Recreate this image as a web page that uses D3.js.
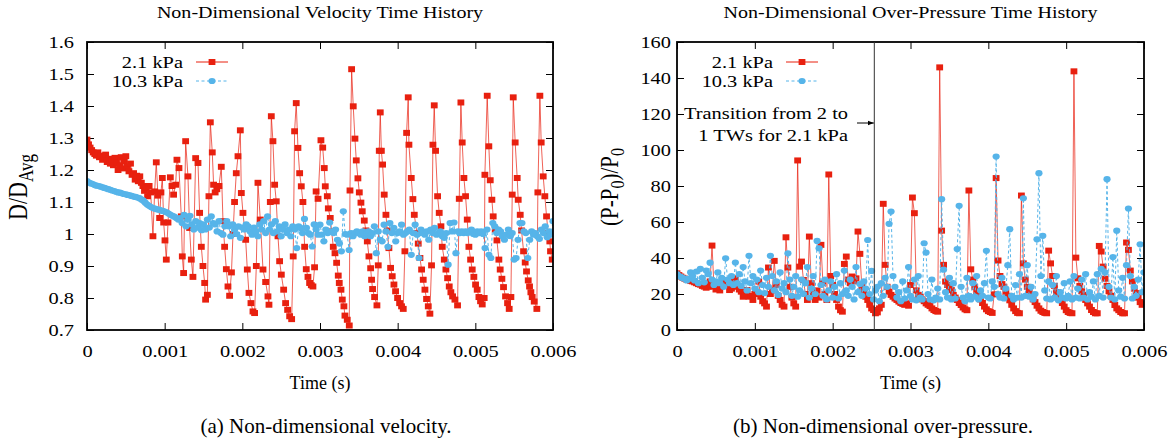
<!DOCTYPE html>
<html>
<head>
<meta charset="utf-8">
<script src="https://cdn.jsdelivr.net/npm/d3@7"></script>
<style>
  body { margin: 0; background: #fff; }
  svg { display: block; font-family: "Liberation Serif", "Times New Roman", serif; }
</style>
</head>
<body>
<svg id="fig" width="1176" height="443"></svg>
<script>
// ---------- data ----------
const timeTicks = [0, 0.001, 0.002, 0.003, 0.004, 0.005, 0.006];
const velTicks = [0.7, 0.8, 0.9, 1.0, 1.1, 1.2, 1.3, 1.4, 1.5, 1.6];
const presTicks = [0, 20, 40, 60, 80, 100, 120, 140, 160];
const seriesNames = ["2.1 kPa", "10.3 kPa"];

// 2.1 kPa velocity, [time in microseconds, D/D_avg]
const vel21 = [[0,1.295],[20,1.28],[40,1.27],[60,1.262],[80,1.255],[100,1.25],[120,1.245],[140,1.255],[160,1.24],[180,1.245],
  [200,1.232],[220,1.24],[240,1.248],[260,1.225],[280,1.235],[300,1.22],[320,1.23],[340,1.215],[360,1.238],[380,1.222],
  [400,1.2],[420,1.215],[440,1.24],[460,1.205],[480,1.228],[500,1.243],[520,1.21],[540,1.196],[560,1.22],[580,1.185],
  [600,1.19],[620,1.17],[640,1.182],[660,1.165],[680,1.18],[700,1.16],[720,1.15],[740,1.135],[760,1.144],[780,1.118],
  [800,1.15],[820,1.13],[849,0.993],[871,1.133],[892,1.224],[913,1.12],[935,1.05],[952,1.13],[970,1.175],[987,1.036],
  [1004,0.98],[1021,0.92],[1043,1.036],[1073,1.177],[1094,1.15],[1115,1.123],[1141,1.154],[1158,1.232],[1184,1.206],[1214,1.055],
  [1227,0.93],[1244,0.878],[1270,1.29],[1300,1.18],[1321,1.019],[1343,0.92],[1364,0.866],[1399,1.237],[1429,1.222],[1450,1.066],
  [1472,0.96],[1493,0.9],[1515,0.847],[1527,0.795],[1550,0.81],[1570,1.118],[1588,1.349],[1613,1.255],[1630,1.154],[1650,1.13],
  [1672,1.14],[1699,1.15],[1729,1.21],[1751,1.04],[1772,0.96],[1794,0.89],[1815,0.836],[1836,0.807],[1860,0.88],[1880,1.0],
  [1900,1.1],[1922,1.19],[1944,1.243],[1974,1.324],[1987,1.128],[2008,1.066],[2043,0.982],[2064,0.889],[2085,0.816],[2111,0.784],
  [2137,0.758],[2158,0.753],[2180,0.9],[2201,1.16],[2231,1.045],[2266,0.889],[2300,0.85],[2330,0.805],[2343,0.779],[2360,1.1],
  [2373,1.368],[2394,1.29],[2416,1.154],[2437,1.102],[2459,0.993],[2480,0.915],[2502,0.873],[2532,0.826],[2557,0.784],[2583,0.763],
  [2609,0.743],[2635,0.734],[2655,0.93],[2673,1.321],[2694,1.409],[2716,1.269],[2738,1.19],[2759,1.149],[2780,1.1],[2802,0.96],
  [2823,0.89],[2845,0.866],[2866,0.847],[2888,0.84],[2909,0.836],[2930,0.896],[2950,1.133],[2975,1.11],[3012,1.293],[3035,1.27],
  [3055,1.206],[3068,1.149],[3094,1.118],[3107,1.08],[3132,1.05],[3150,1.008],[3171,0.96],[3193,0.94],[3214,0.91],[3235,0.87],
  [3248,0.847],[3270,0.826],[3287,0.795],[3308,0.774],[3321,0.745],[3351,0.732],[3377,0.714],[3386,1.136],[3407,1.515],[3428,1.399],
  [3450,1.298],[3467,1.23],[3488,1.174],[3506,1.13],[3527,1.098],[3544,1.071],[3570,1.042],[3591,1.011],[3609,0.977],[3630,0.93],
  [3652,0.893],[3664,0.857],[3677,0.828],[3703,0.803],[3733,0.777],[3750,0.902],[3763,1.26],[3776,1.38],[3790,1.26],[3806,1.217],
  [3827,1.123],[3849,1.06],[3866,1.011],[3887,0.956],[3909,0.894],[3930,0.868],[3952,0.842],[3973,0.821],[3999,0.8],[4025,0.784],
  [4050,0.774],[4072,0.766],[4093,0.946],[4115,1.316],[4136,1.427],[4145,1.279],[4175,1.175],[4196,1.109],[4214,1.06],[4248,1.003],
  [4265,0.97],[4287,0.925],[4308,0.889],[4329,0.857],[4351,0.826],[4372,0.797],[4394,0.774],[4415,0.751],[4436,0.902],[4454,1.279],
  [4471,1.402],[4488,1.26],[4514,1.118],[4535,1.066],[4557,1.024],[4574,0.96],[4600,0.92],[4621,0.889],[4643,0.862],[4664,0.836],
  [4685,0.818],[4707,0.805],[4737,0.795],[4771,0.777],[4793,1.11],[4814,1.411],[4831,1.286],[4853,1.175],[4874,1.118],[4896,1.045],
  [4917,0.96],[4939,0.92],[4960,0.889],[4981,0.866],[5003,0.842],[5024,0.826],[5046,0.803],[5067,0.79],[5089,0.78],[5114,0.8],
  [5123,1.185],[5153,1.432],[5174,1.274],[5192,1.168],[5213,1.107],[5230,1.055],[5256,1.014],[5278,0.98],[5303,0.92],[5320,0.889],
  [5342,0.86],[5363,0.834],[5389,0.805],[5415,0.784],[5436,0.766],[5458,0.803],[5475,1.123],[5488,1.427],[5513,1.286],[5539,1.175],
  [5552,1.107],[5578,1.06],[5595,1.011],[5621,0.946],[5642,0.911],[5659,0.883],[5681,0.855],[5698,0.836],[5715,0.818],[5732,0.803],
  [5758,0.789],[5792,0.766],[5805,1.13],[5831,1.432],[5848,1.286],[5874,1.18],[5895,1.118],[5917,1.055],[5938,1.003],[5959,0.977],
  [5968,0.946],[5990,0.92]];

// the other three series are saved every 25 microseconds
const sampleUs = 25;

// 10.3 kPa velocity, D/D_avg
const vel103 = [
  1.165, 1.161, 1.158, 1.156, 1.153, 1.151, 1.15, 1.148, 1.146, 1.144, 1.142, 1.14,
  1.138, 1.136, 1.134, 1.132, 1.13, 1.129, 1.127, 1.125, 1.124, 1.122, 1.121, 1.119,
  1.117, 1.116, 1.114, 1.112, 1.108, 1.104, 1.098, 1.092, 1.088, 1.084, 1.081, 1.079,
  1.077, 1.076, 1.074, 1.072, 1.07, 1.068, 1.064, 1.06, 1.057, 1.054, 1.05, 1.045,
  1.05, 1.034, 1.06, 1.024, 1.045, 1.057, 1.03, 1.014, 1.04, 1.02, 1.034, 1.012,
  1.03, 1.014, 1.045, 1.02, 1.055, 1.034, 1.03, 1.008, 1.04, 1.003, 0.998, 1.024,
  1.04, 1.024, 0.993, 1.03, 1.014, 1.0, 1.024, 0.988, 1.02, 1.014, 1.03, 1.024,
  1.008, 0.998, 1.02, 1.008, 0.993, 1.03, 1.014, 1.04, 1.003, 1.055, 1.014, 1.03,
  1.003, 1.04, 1.008, 1.024, 0.993, 1.014, 1.03, 1.003, 1.014, 0.993, 1.024, 1.014,
  0.956, 1.024, 1.019, 1.003, 1.047, 1.019, 1.003, 0.998, 0.961, 1.03, 1.015, 0.998,
  1.029, 0.998, 0.977, 1.014, 1.003, 1.036, 1.008, 1.003, 1.014, 0.982, 0.97, 0.946,
  1.071, 1.0, 0.998, 0.95, 1.003, 0.993, 1.003, 1.008, 1.003, 0.998, 1.008, 0.993,
  1.003, 1.008, 0.993, 1.003, 1.024, 0.94, 1.008, 0.982, 0.977, 1.029, 1.008, 0.96,
  1.034, 1.003, 1.019, 0.977, 1.003, 1.008, 1.029, 0.998, 1.003, 1.008, 1.014, 0.935,
  1.003, 1.029, 0.998, 0.925, 1.014, 1.003, 0.998, 1.008, 0.982, 1.014, 1.003, 1.019,
  0.998, 1.003, 1.008, 0.993, 0.988, 1.003, 0.904, 1.034, 1.008, 1.036, 0.94, 1.008,
  1.003, 1.008, 1.003, 1.008, 1.003, 1.008, 1.014, 1.0, 0.998, 1.008, 1.003, 1.008,
  1.0, 0.956, 1.014, 0.935, 0.925, 1.034, 1.024, 1.003, 1.014, 1.008, 0.993, 0.982,
  0.998, 1.014, 0.993, 1.003, 0.92, 0.925, 0.982, 1.034, 1.034, 1.008, 1.003, 0.925,
  0.982, 1.008, 0.998, 1.003, 0.992, 0.985, 1.014, 1.003, 1.024, 0.99, 1.008, 0.998,
  1.04];

// 2.1 kPa over-pressure, (P-P0)/P0
const pres21 = [
  31.5, 30.5, 29.7, 29, 28.5, 28, 27.8, 27.2,
  27, 26.5, 26, 25.5, 25.2, 24.5, 24.1, 23.5,
  24, 27, 46.9, 24.1, 22.5, 23, 22, 26,
  27.5, 25, 24.5, 22.2, 23, 26.9, 28.7, 24,
  22.5, 21.3, 18.5, 20, 22.2, 18.5, 19, 16.7,
  20, 21, 26.9, 18.5, 16, 14.8, 13, 34.7,
  20, 22, 38.4, 25, 19, 16.7, 14, 13,
  51.5, 34.7, 24, 18, 14.8, 13, 94.2, 35.2,
  38, 27.8, 20, 16.7, 51.9, 26, 20, 16.7,
  22, 18, 47.3, 26, 20, 16.7, 86.4, 30,
  25, 20, 16.7, 13, 11, 10.2, 36.7, 40.8,
  28, 26, 29.7, 27, 28.7, 54.7, 42.3, 24,
  21, 18.5, 16.7, 14, 12, 11.1, 9.3, 9.8,
  12, 14, 70.1, 36.2, 24, 21.3, 19.5, 18.5,
  17.5, 16.7, 15.8, 15, 14.5, 14, 14.8, 13.5,
  25, 73.6, 64.9, 22, 19.5, 18.5, 17, 16,
  14.8, 14, 13.3, 12, 11.1, 10.5, 10.2, 145.9,
  55.2, 36.2, 26.9, 25, 23, 22.2, 19.5, 18,
  16.7, 15, 13.9, 12.5, 11.5, 11, 77.5, 33.7,
  28, 24, 21.3, 19.5, 17, 15, 13, 11.5,
  10.5, 10, 9.5, 19.8, 84.4, 38.6, 30, 25.5,
  24, 21, 19, 16.5, 14, 12, 10.5, 9.5,
  9.3, 74.7, 37, 28, 24, 22, 19.5, 17,
  15.5, 13.5, 12, 10.7, 10, 9.5, 9.3, 44.1,
  37, 30, 24.5, 21, 19.5, 17, 15, 13,
  11, 10, 9.5, 9.3, 143.7, 40.2, 28.7, 24.5,
  21.5, 19.5, 16.7, 14.8, 13, 11.1, 10, 9.3,
  9.3, 46.7, 43.6, 35.2, 28.5, 24.5, 21.5, 19,
  16.7, 13.9, 12, 11, 10, 9.3, 9.3, 48.6,
  44.5, 33, 27, 23, 20.5, 18, 15.5, 14,
  14.5];

// 10.3 kPa over-pressure, (P-P0)/P0
const pres103 = [
  31, 30, 29.5, 28.8, 28.5, 27.5, 28.5, 32,
  30, 27.5, 32.5, 26, 34, 29, 26.5, 33,
  31, 37.4, 28, 25, 27, 32, 26, 29,
  24, 39.8, 28, 26, 30, 25, 37.5, 26,
  31, 24.5, 35, 27, 22, 41.2, 26, 30,
  23, 28, 21, 33, 25, 20.5, 29, 24,
  41.2, 30, 22, 27, 19.5, 32, 23, 26,
  21, 42.6, 28, 19, 24, 30, 18.5, 22,
  28, 20, 26, 35, 18, 23, 30, 20,
  49.5, 45.4, 25, 19, 28, 17, 22, 27,
  18, 24, 31, 17.5, 26, 20, 33, 22,
  19, 28, 24, 17, 35, 21, 25.5, 19,
  27, 23, 50, 20, 32.8, 17, 22, 24,
  16, 26, 19, 29, 24, 59, 65.8, 30,
  24, 18, 21, 16, 27, 17.5, 22, 35,
  19, 17, 28, 16.5, 30, 18, 17, 48.2,
  43, 20, 17, 28, 16.5, 18, 23, 17,
  72.7, 33.5, 21, 18, 29, 17, 26, 17.5,
  45, 69, 24, 18, 16, 29, 19, 17,
  26, 18.5, 30, 17, 22, 19, 26, 44,
  18, 17.5, 27, 24, 96.4, 20, 18, 29,
  17.5, 23, 36, 56, 19, 17, 25, 18,
  31, 18, 73.2, 19, 36, 18.5, 24, 17,
  20, 50.4, 87.1, 30, 52.3, 22, 17.5, 27,
  17, 25, 18, 30, 16.5, 21, 18, 26,
  17.5, 19, 27, 17, 30, 18, 23, 17.5,
  28, 18, 31, 17, 21, 18.5, 27, 17,
  31, 19, 34, 18, 32, 83.8, 24, 18,
  40.5, 17, 55.2, 22, 18.5, 29, 17.5, 36,
  67.5, 30, 17.5, 24, 19, 28, 47.6, 21,
  32];

const transitionTime = 0.002535; // 2 -> 1 transverse waves, 2.1 kPa

// ---------- drawing ----------
const RED = "#e8200f", BLUE = "#56b4e9";
const SX = 1.2;           // the figure's text is stretched sideways
const FS = 17;
const plotTop = 42, plotBottom = 330;
const svg = d3.select("#fig");
svg.append("rect").attr("width", 1176).attr("height", 443).attr("fill", "#fff");

function txt(x, y, s, anchor, size, sx = SX) {
  return svg.append("text")
    .attr("transform", `translate(${x},${y}) scale(${sx},1)`)
    .attr("text-anchor", anchor)
    .attr("font-size", size)
    .attr("fill", "#000")
    .text(s);
}

const fmtTime = d => d === 0 ? "0" : d3.format(".3f")(d);

function withTime(values) {
  return values.map((v, i) => [i * sampleUs, v]);
}

function drawPanel(o) {
  const x = d3.scaleLinear().domain([0, 0.006]).range([o.x0, o.x1]);
  const y = d3.scaleLinear().domain(o.yDomain).range([plotBottom, plotTop]);
  const g = svg.append("g");

  const clipId = "clip" + o.id;
  svg.append("clipPath").attr("id", clipId)
    .append("rect").attr("x", o.x0).attr("y", plotTop)
    .attr("width", o.x1 - o.x0).attr("height", plotBottom - plotTop);

  // axes, ticks pointing into the plot on all four sides
  const styleAxis = a => {
    a.attr("font-size", FS).attr("font-family", null);
    a.select(".domain").remove();
    a.selectAll("line").attr("stroke", "#000").attr("stroke-width", 1);
  };
  g.append("g").attr("transform", `translate(0,${plotBottom})`)
    .call(d3.axisBottom(x).tickValues(timeTicks).tickSizeInner(-7).tickSizeOuter(0).tickFormat(fmtTime))
    .call(styleAxis)
    .selectAll("text").attr("y", 27).attr("dy", 0).attr("fill", "#000")
    .attr("transform", `scale(${SX},1)`);
  g.append("g").attr("transform", `translate(0,${plotTop})`)
    .call(d3.axisTop(x).tickValues(timeTicks).tickSizeInner(-7).tickSizeOuter(0).tickFormat(""))
    .call(styleAxis);
  g.append("g").attr("transform", `translate(${o.x0},0)`)
    .call(d3.axisLeft(y).tickValues(o.yTicks).tickSizeInner(-7).tickSizeOuter(0).tickFormat(o.yFmt))
    .call(styleAxis)
    .selectAll("text").attr("x", -o.labGap / SX).attr("dy", "0.33em").attr("fill", "#000")
    .attr("transform", `scale(${SX},1)`);
  g.append("g").attr("transform", `translate(${o.x1},0)`)
    .call(d3.axisRight(y).tickValues(o.yTicks).tickSizeInner(-7).tickSizeOuter(0).tickFormat(""))
    .call(styleAxis);

  // series: 2.1 kPa first, 10.3 kPa drawn over it
  const line = d3.line().x(d => x(d[0] * 1e-6)).y(d => y(d[1]));
  const data = g.append("g").attr("clip-path", `url(#${clipId})`);

  data.append("path").datum(o.red).attr("d", line)
    .attr("fill", "none").attr("stroke", RED).attr("stroke-width", 1).attr("stroke-opacity", 0.7);
  data.selectAll(".sq").data(o.red).enter().append("rect")
    .attr("x", d => x(d[0] * 1e-6) - 3.4).attr("y", d => y(d[1]) - 3)
    .attr("width", 6.8).attr("height", 6).attr("fill", RED);

  data.append("path").datum(o.blue).attr("d", line)
    .attr("fill", "none").attr("stroke", BLUE).attr("stroke-width", 1).attr("stroke-dasharray", "3,2.5");
  data.selectAll(".dot").data(o.blue).enter().append("ellipse")
    .attr("cx", d => x(d[0] * 1e-6)).attr("cy", d => y(d[1]))
    .attr("rx", 3.6).attr("ry", 3.1).attr("fill", BLUE);

  // frame
  g.append("rect").attr("x", o.x0).attr("y", plotTop)
    .attr("width", o.x1 - o.x0).attr("height", plotBottom - plotTop)
    .attr("fill", "none").attr("stroke", "#000").attr("stroke-width", 1.8);

  // legend
  const lx = o.x0;
  [62, 81].forEach((ly, i) => {
    txt(lx + 96, ly + 6, seriesNames[i], "end", FS);
    const c = i === 0 ? RED : BLUE;
    svg.append("line").attr("x1", lx + 109).attr("x2", lx + 141).attr("y1", ly).attr("y2", ly)
      .attr("stroke", c).attr("stroke-width", 1).attr("stroke-dasharray", i === 0 ? null : "3,2.5");
    if (i === 0) svg.append("rect").attr("x", lx + 125 - 3.4).attr("y", ly - 3).attr("width", 6.8).attr("height", 6).attr("fill", c);
    else svg.append("ellipse").attr("cx", lx + 125).attr("cy", ly).attr("rx", 3.6).attr("ry", 3.1).attr("fill", c);
  });

  // title and x label
  const cx = (o.x0 + o.x1) / 2;
  txt(cx, 18, o.title, "middle", 16.7);
  txt(cx, 389, "Time (s)", "middle", 18, 1);

  return { x, y };
}

// ---- left: velocity ----
drawPanel({
  id: "v", x0: 87, x1: 553, yDomain: [0.7, 1.6], yTicks: velTicks,
  yFmt: d => String(+d.toFixed(1)), labGap: 13,
  red: vel21, blue: withTime(vel103),
  title: "Non-Dimensional Velocity Time History"
});
const yl = svg.append("text")
  .attr("transform", "translate(27,187) rotate(-90) scale(1,1.2)")
  .attr("text-anchor", "middle").attr("font-size", 22);
yl.append("tspan").text("D/D");
yl.append("tspan").attr("font-size", 17).attr("dy", 5).text("Avg");

// ---- right: over-pressure ----
const right = drawPanel({
  id: "p", x0: 677, x1: 1144, yDomain: [0, 160], yTicks: presTicks,
  yFmt: d => String(d), labGap: 6,
  red: withTime(pres21), blue: withTime(pres103),
  title: "Non-Dimensional Over-Pressure Time History"
});
const pl = svg.append("text")
  .attr("transform", "translate(618,187) rotate(-90) scale(1,1.2)")
  .attr("text-anchor", "middle").attr("font-size", 21);
pl.append("tspan").text("(P-P");
pl.append("tspan").attr("font-size", 16).attr("dy", 5).text("0");
pl.append("tspan").attr("dy", -5).text(")/P");
pl.append("tspan").attr("font-size", 16).attr("dy", 5).text("0");

// transition marker
const tx = right.x(transitionTime);
svg.append("line").attr("x1", tx).attr("x2", tx).attr("y1", plotTop).attr("y2", plotBottom)
  .attr("stroke", "#333").attr("stroke-width", 1);
svg.append("defs").append("marker").attr("id", "arr")
  .attr("viewBox", "0 0 10 10").attr("refX", 10).attr("refY", 5)
  .attr("markerWidth", 6).attr("markerHeight", 6).attr("orient", "auto")
  .append("path").attr("d", "M0,1 L10,5 L0,9 Z").attr("fill", "#000");
svg.append("line").attr("x1", 857).attr("x2", tx - 0.5).attr("y1", 123).attr("y2", 123)
  .attr("stroke", "#000").attr("stroke-width", 1).attr("marker-end", "url(#arr)");
txt(848, 119, "Transition from 2 to", "end", FS);
txt(848, 141, "1 TWs for 2.1 kPa", "end", FS);

// captions
txt(326, 433, "(a) Non-dimensional velocity.", "middle", 21, 1);
txt(883, 433, "(b) Non-dimensional over-pressure.", "middle", 21, 1);
</script>
</body>
</html>
